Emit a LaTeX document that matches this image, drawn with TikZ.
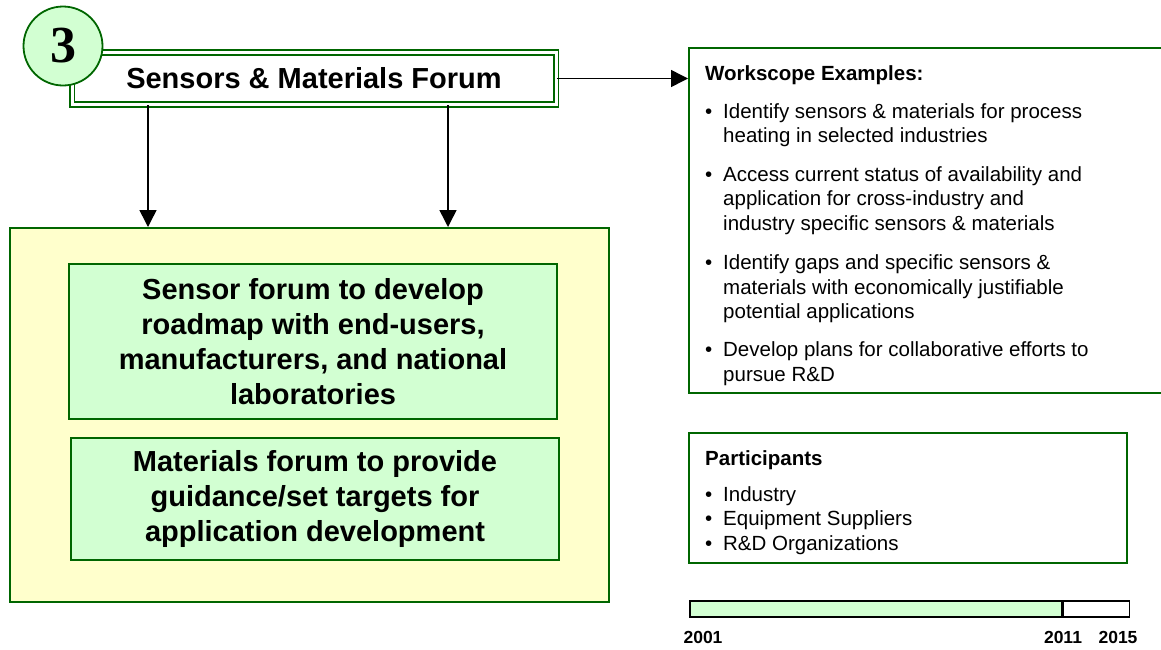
\documentclass[tikz,border=0pt]{standalone}
\usepackage{fontspec}
\setmainfont{Liberation Sans}
\newfontfamily\numfont{Liberation Serif}
\usetikzlibrary{arrows.meta}

\definecolor{bordegreen}{HTML}{006600}
\definecolor{lightgreen}{HTML}{D2FFD2}
\definecolor{lightyellow}{HTML}{FFFFCC}

\tikzset{
    caja/.style={draw=bordegreen, line width=2pt, inner sep=0pt},
    flecha/.style={-{Triangle[length=17pt,width=17pt]}, line width=1.5pt},
    grande/.style={font=\fontsize{29}{35}\selectfont\bfseries, align=center},
    lista/.style={font=\fontsize{20.5}{24.5}\selectfont, anchor=north west, inner sep=0pt}
}

\begin{document}
\begin{tikzpicture}[x=1pt, y=-1pt]
                \useasboundingbox (0,0) rectangle (1161,649);

                % Titulo
                \node[draw=bordegreen, line width=1.7pt, double=white, double distance=3pt,
                      minimum width=484pt, minimum height=52pt, grande] (title) at (314,78.5)
                      {Sensors \& Materials Forum};
                \node[circle, draw=bordegreen, line width=1.8pt, fill=lightgreen, minimum size=79pt,
                      inner sep=0pt, font=\fontsize{52}{52}\selectfont\numfont\bfseries] (num) at (63,46) {3};

                % Cajas de la izquierda
                \node[caja, fill=lightyellow, minimum width=599pt, minimum height=374pt] (yellow) at (309.5,415) {};
                \node[caja, fill=lightgreen, minimum width=488pt, minimum height=155pt, grande] (sensor) at (313,341.5)
                      {Sensor forum to develop\\roadmap with end-users,\\manufacturers, and national\\laboratories};
                \node[caja, fill=lightgreen, minimum width=488pt, minimum height=122pt, grande] (material) at (315,499)
                      {Materials forum to provide\\guidance/set targets for\\application development};

                % Flechas
                \coordinate (c1) at (148,0);
                \coordinate (c2) at (448,0);
                \draw[flecha] (title.south -| c1) -- (yellow.north -| c1);
                \draw[flecha] (title.south -| c2) -- (yellow.north -| c2);

                % Cajas de la derecha
                \node[caja, minimum width=482pt, minimum height=345pt] (work) at (930,220.5) {};
                \draw[flecha] (title.east) -- (work.west |- title.east);
                \node[lista] (worktext) at (705,63) {%
                    \begin{tabular}{@{}p{18pt}@{}l@{}}
                    \multicolumn{2}{@{}l}{\bfseries Workscope Examples:}\\[13.5pt]
                    \textbullet & Identify sensors \& materials for process\\
                                & heating in selected industries\\[14pt]
                    \textbullet & Access current status of availability and\\
                                & application for cross-industry and\\
                                & industry specific sensors \& materials\\[15pt]
                    \textbullet & Identify gaps and specific sensors \&\\
                                & materials with economically justifiable\\
                                & potential applications\\[13.5pt]
                    \textbullet & Develop plans for collaborative efforts to\\
                                & pursue R\&D
                    \end{tabular}};

                \node[caja, minimum width=438pt, minimum height=130pt] (part) at (908,498) {};
                \node[lista] (parttext) at (705,448) {%
                    \begin{tabular}{@{}p{18pt}@{}l@{}}
                    \multicolumn{2}{@{}l}{\bfseries Participants}\\[11.5pt]
                    \textbullet & Industry\\
                    \textbullet & Equipment Suppliers\\
                    \textbullet & R\&D Organizations
                    \end{tabular}};

                % Linea de tiempo
                \node[draw, line width=1.5pt, fill=lightgreen, minimum width=372pt, minimum height=16pt,
                      inner sep=0pt, anchor=west] (bar) at (689,609) {};
                \node[draw, line width=1.5pt, fill=white, minimum width=66pt, minimum height=16pt,
                      inner sep=0pt, anchor=west] (barend) at (bar.east) {};
                \node[font=\fontsize{17.5}{17.5}\selectfont\bfseries] (y1) at (703,637) {2001};
                \node[font=\fontsize{17.5}{17.5}\selectfont\bfseries] (y2) at (1063,637) {2011};
                \node[font=\fontsize{17.5}{17.5}\selectfont\bfseries] (y3) at (1118,637) {2015};
            \end{tikzpicture}
\end{document}
